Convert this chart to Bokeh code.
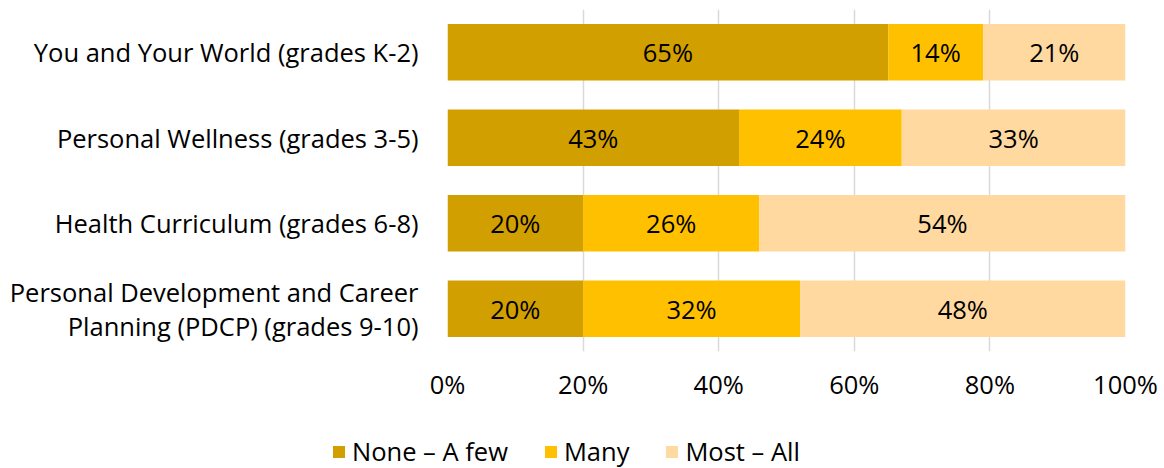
from bokeh.plotting import figure
from bokeh.layouts import column
from bokeh.models import ColumnDataSource, FactorRange, Legend, LegendItem, LabelSet, NumeralTickFormatter, FixedTicker, Range1d
from bokeh.core.properties import value
from bokeh.embed import file_html
from bokeh.resources import INLINE

categories = [
    "You and Your World (grades K-2)",
    "Personal Wellness (grades 3-5)",
    "Health Curriculum (grades 6-8)",
    "Personal Development and Career\nPlanning (PDCP) (grades 9-10)",
]
series_names = ["None \u2013 A few", "Many", "Most \u2013 All"]
none_few = [65, 43, 20, 20]
many = [14, 24, 26, 32]
most_all = [21, 33, 54, 48]
x_ticks = [0, 20, 40, 60, 80, 100]

colors = ["#D29F00", "#FFC000", "#FFD9A0"]
FONT = "Open Sans"
FS = "25.5px"

keys = ["none_few", "many", "most_all"]
data = dict(cat=categories, none_few=[v / 100 for v in none_few],
            many=[v / 100 for v in many], most_all=[v / 100 for v in most_all])
src = ColumnDataSource(data)

p = figure(width=1164, height=420, y_range=FactorRange(*reversed(categories)),
           x_range=(0, 1), output_backend="svg", toolbar_location=None,
           min_border_left=447, min_border_right=39, min_border_top=9, min_border_bottom=69)
p.outline_line_color = None

renderers = p.hbar_stack(keys, y="cat", height=0.66, color=colors, source=src, line_color=None)

# data labels
lab_x, lab_y, lab_t = [], [], []
for i, c in enumerate(categories):
    left = 0
    for vals in (none_few, many, most_all):
        v = vals[i]
        lab_x.append((left + v / 2) / 100)
        lab_y.append(c)
        lab_t.append(f"{v}%")
        left += v
lsrc = ColumnDataSource(dict(x=lab_x, y=lab_y, t=lab_t))
p.add_layout(LabelSet(x="x", y="y", text="t", source=lsrc, text_align="center",
                      text_baseline="middle", text_font=value(FONT), text_font_size=value(FS),
                      text_color="#000000"))

p.xaxis.ticker = FixedTicker(ticks=[t / 100 for t in x_ticks])
p.xaxis.formatter = NumeralTickFormatter(format="0%")
p.xaxis.axis_line_color = None
p.xaxis.major_tick_line_color = None
p.xaxis.minor_tick_line_color = None
p.xaxis.major_label_standoff = 9
p.xaxis.major_label_text_font = FONT
p.xaxis.major_label_text_font_size = FS
p.xaxis.major_label_text_color = "#000000"

p.yaxis.axis_line_color = None
p.yaxis.major_tick_line_color = None
p.yaxis.minor_tick_line_color = None
p.yaxis.major_label_standoff = 23
p.yaxis.major_label_text_font = FONT
p.yaxis.major_label_text_font_size = FS
p.yaxis.major_label_text_line_height = 1.0
p.yaxis.major_label_text_color = "#000000"

p.ygrid.grid_line_color = None
p.xgrid.grid_line_color = "#D9D9D9"
p.xgrid.grid_line_width = 1.5

# legend in its own strip below
lg = figure(width=1164, height=48, x_range=Range1d(0, 1), y_range=Range1d(0, 1),
            output_backend="svg", toolbar_location=None,
            min_border_left=0, min_border_right=0, min_border_top=0, min_border_bottom=0)
lg.frame_align = False
lg.axis.visible = False
lg.grid.visible = False
lg.outline_line_color = None
dummies = [lg.hbar(y=[0], left=[0], right=[0], height=0.0, color=c, line_color=None) for c in colors]
legend = Legend(items=[LegendItem(label=n, renderers=[r]) for n, r in zip(series_names, dummies)],
                orientation="horizontal", location=(331, 0),
                label_text_font=FONT, label_text_font_size=FS, label_text_color="#000000",
                glyph_width=15, glyph_height=15, label_standoff=6, spacing=35,
                padding=0, margin=0, border_line_color=None, background_fill_alpha=0)
lg.add_layout(legend, "center")

open("out.html", "w").write(file_html(column(p, lg, spacing=0), INLINE))
